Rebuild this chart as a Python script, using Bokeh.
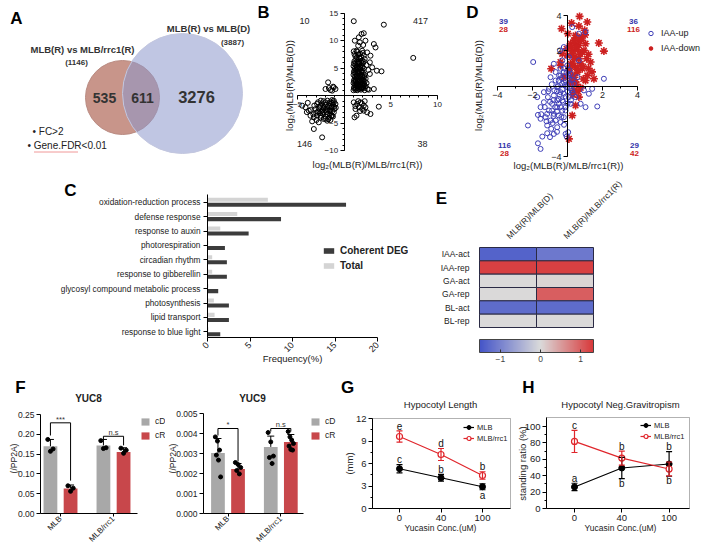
import math
import numpy as np
from bokeh.plotting import figure
from bokeh.layouts import column, row
from bokeh.models import (Range1d, Label, FixedTicker, Legend, LegendItem, BoxAnnotation,
                          ColumnDataSource, Whisker, TeeHead, LinearColorMapper, ColorBar,
                          NumeralTickFormatter)
from bokeh.core.properties import value
from bokeh.embed import file_html
from bokeh.resources import INLINE

FONT = "Liberation Sans"

# ======================= DATA =======================
# A  Venn
venn_left_title = "MLB(R) vs MLB/rrc1(R)"
venn_right_title = "MLB(R) vs MLB(D)"
venn_left_total = 1146
venn_right_total = 3887
venn_left_only = 535
venn_overlap = 611
venn_right_only = 3276
venn_criteria = ["FC>2", "Gene.FDR<0.01"]

# B  scatter log2 fold changes (x = MLB(R)/MLB/rrc1(R), y = MLB(R)/MLB(D))
b_points = [
    (1.03, 13.6), (4.25, 12.96), (7.4, 6.9), (1.86, 11.26), (2.1, 11.4), (1.57, 10.65),
    (1.14, 10.04), (1.68, 9.74), (2.28, 10.04), (1.5, 9.13), (2.04, 9.25), (1.32, 8.2),
    (1.93, 8.2), (1.03, 8.1), (3.18, 9.43), (3.36, 8.8), (2.46, 7.9), (2.82, 7.3),
    (2.1, 7.3), (3.5, 4.56), (4.0, 4.45), (2.75, 6.09), (3.0, 5.17), (2.75, 3.96),
    (3.18, 1.22), (2.64, 1.1),
    (1.0, 1.0), (1.2, 1.1), (1.4, 1.0), (1.6, 1.2), (1.8, 1.1), (2.0, 1.3), (2.2, 1.0), (2.5, 1.2),
    (1.1, 1.6), (1.3, 1.8), (1.5, 1.7), (1.7, 1.9), (1.9, 1.6), (2.1, 1.8), (2.3, 1.7),
    (1.0, 2.3), (1.2, 2.5), (1.4, 2.2), (1.6, 2.6), (1.8, 2.4), (2.0, 2.2), (2.2, 2.6), (2.4, 2.3),
    (1.1, 3.0), (1.3, 3.2), (1.5, 3.1), (1.7, 3.4), (1.9, 3.0), (2.1, 3.3), (2.3, 3.1),
    (1.0, 3.8), (1.2, 4.0), (1.4, 3.7), (1.6, 4.1), (1.8, 3.9), (2.0, 4.2), (2.2, 3.8),
    (1.1, 4.6), (1.3, 4.8), (1.5, 4.5), (1.7, 4.9), (1.9, 4.6), (2.1, 5.0), (2.6, 4.7),
    (1.0, 5.4), (1.2, 5.6), (1.4, 5.3), (1.6, 5.8), (1.8, 5.5), (2.0, 5.9), (2.4, 5.6),
    (1.1, 6.3), (1.3, 6.6), (1.5, 6.2), (1.7, 6.8), (1.9, 6.4), (2.2, 6.7),
    (1.2, 7.2), (1.5, 7.5), (1.8, 7.1),
    (1.05, 1.4), (1.25, 1.35), (1.45, 1.45), (1.65, 1.5), (1.85, 1.35), (2.05, 1.55),
    (1.15, 2.0), (1.35, 2.05), (1.55, 1.95), (1.75, 2.1), (1.95, 2.0), (2.15, 2.1),
    (1.05, 2.7), (1.25, 2.8), (1.45, 2.65), (1.65, 2.85), (1.85, 2.75), (2.05, 2.7),
    (1.15, 3.45), (1.35, 3.5), (1.55, 3.4), (1.75, 3.6), (1.95, 3.5), (2.15, 3.55),
    (1.05, 4.3), (1.25, 4.35), (1.45, 4.2), (1.65, 4.4), (1.85, 4.3),
    (1.15, 5.0), (1.35, 5.1), (1.55, 4.95), (1.75, 5.2), (1.95, 5.2),
    (1.05, 5.9), (1.25, 6.0), (1.45, 5.85), (1.65, 6.1), (1.85, 6.0), (2.1, 6.2),
    (1.35, 7.0), (1.6, 6.9), (1.1, 7.6), (1.4, 8.0), (1.7, 7.7), (2.0, 7.8),
    (-1.72, 2.44), (-2.0, 1.22), (-1.47, 1.04), (-1.11, 1.53), (-1.29, 0.92), (-0.93, 1.22),
    (-1.18, 1.65), (-1.64, 1.4),
    (-4.5, -1.82), (-4.14, -2.12), (-3.79, -2.73), (-3.61, -3.65), (-3.25, -3.95), (-3.43, -4.68),
    (-2.97, -4.44), (-2.72, -4.86), (-2.54, -3.65), (-2.18, -4.25), (-1.82, -4.56), (-1.47, -4.44),
    (-1.29, -3.65), (-1.11, -3.04), (-1.47, -2.73), (-1.82, -2.43), (-2.18, -2.12), (-2.54, -1.82),
    (-2.9, -1.52), (-2.0, -1.21), (-1.47, -1.09), (-1.11, -0.91), (-0.93, -1.52), (-1.64, -1.82),
    (-1.29, -2.12), (-1.04, -2.43), (-2.18, -3.04), (-3.07, -2.43), (-3.25, -6.08), (-2.36, -7.6),
    (-2.5, -0.9), (-2.2, -1.0), (-1.8, -0.9), (-1.3, -1.3), (-3.2, -1.8), (-2.7, -2.3),
    (-2.3, -2.6), (-1.9, -3.0), (-1.5, -3.3), (-1.2, -3.8), (-2.6, -3.2), (-2.9, -3.6),
    (-2.0, -3.8), (-1.6, -4.0), (-3.6, -2.6), (-4.0, -3.0), (-3.9, -1.3),
    (-2.8, -1.2), (-2.4, -1.4), (-2.0, -1.6), (-1.6, -1.4), (-1.2, -1.6), (-2.6, -2.0),
    (-2.2, -2.3), (-1.8, -2.0), (-1.4, -2.2), (-1.1, -2.0), (-2.4, -2.8), (-2.0, -2.6),
    (-1.6, -2.7), (-1.3, -2.9), (-2.8, -2.9), (-2.3, -3.3), (-1.8, -3.4), (-1.4, -3.7),
    (-2.5, -4.0), (-2.0, -4.2), (-1.7, -4.3), (-3.0, -3.1), (-3.3, -3.4), (-1.1, -1.2),
    (-1.3, -0.8), (-0.9, -2.2),
    (1.03, -1.21), (1.39, -1.52), (1.75, -1.21), (2.1, -1.82), (1.57, -2.12), (1.21, -2.43),
    (1.93, -2.43), (2.28, -2.12), (1.32, -3.65), (1.11, -3.95), (2.46, -3.04), (2.82, -3.34),
    (3.71, -2.0), (2.1, -2.73), (1.5, -1.0), (1.9, -1.4), (2.2, -1.0), (1.2, -1.9), (1.7, -2.8),
]
b_counts = ["10", "417", "146", "38"]          # UL, UR, LL, LR

# D  auxin responsive genes
d_up_points = [
    (-1.96, 1.36), (2.08, 0.41), (1.70, -1.16), (1.03, -1.2), (-2.26, -2.24), (-1.69, -1.64),
    (-1.54, -1.86), (-1.44, -2.87), (-1.69, -3.25), (-1.54, -3.57), (-1.0, -2.9), (-0.78, -2.72),
    (-0.59, -2.34), (-0.11, -2.72), (-0.05, -2.87), (-1.16, -2.24), (-0.97, -1.96), (-1.25, -1.77),
    (-1.06, -1.39), (-0.78, -1.58), (-0.5, -1.67), (-0.59, -1.2), (-0.88, -1.01), (-1.12, -0.63),
    (-1.35, -0.35), (-1.06, -0.16), (-0.78, -0.54), (-0.5, -0.73), (-0.4, -0.35), (-0.59, -0.06),
    (-0.30, 0.13), (-0.68, 0.31), (-0.49, 0.6), (-0.21, 0.79), (-0.40, 0.98), (-0.01, 1.17),
    (-0.78, 1.26), (0.18, 0.69), (-0.11, 0.31), (-0.01, -0.06), (-0.21, -0.44), (-0.30, -0.82),
    (0.08, -0.63), (0.27, -0.25), (0.37, 0.13), (0.18, -1.01), (-0.40, -1.2), (-0.11, -1.39),
    (-0.68, -1.96), (-0.93, -2.43), (-1.16, -2.68), (-0.40, -2.05), (-0.21, -1.77), (0.04, -2.62),
    (0.65, 1.45), (0.94, -0.25), (1.22, -0.44), (1.41, -0.16), (-1.35, -0.92), (-1.54, -1.2),
    (-1.73, -0.63), (0.08, 1.64), (0.56, 0.5), (0.46, -0.63), (-0.97, 0.5), (-0.68, 0.79),
    (-0.30, 1.45), (-0.43, 2.02), (-0.21, 2.21), (0.27, 3.34), (0.65, 2.97), (1.03, 3.06),
    (0.75, -1.01), (-0.59, -0.82), (-0.88, -1.39), (-1.16, -1.58),
    (-0.2, 0.2), (0.1, 0.4), (-0.3, -0.2), (0.0, -0.3), (0.2, 0.1), (-0.5, 0.3), (-0.1, -0.6),
    (0.3, -0.4), (-0.6, -0.3), (-0.4, 0.6), (-0.2, 1.0), (0.1, 0.9), (-0.8, -0.8), (-0.9, 0.1),
    (-1.1, -0.3), (-0.7, -1.2), (-0.3, -1.4), (0.0, -1.0), (-0.5, -1.0), (-1.3, -1.2),
    (-1.5, -1.6), (-1.2, -2.0), (-0.8, -1.7), (-0.2, -2.2), (-0.6, -2.6),
    (-0.35, 0.45), (-0.15, 0.05), (0.05, 0.6), (0.25, 0.35), (-0.25, -0.9), (-0.45, -0.5),
    (0.15, -0.15), (-0.05, 0.75), (-0.55, 0.0), (-0.75, -0.25), (-0.1, -1.2), (0.2, -0.8),
    (-0.35, -1.75), (-0.6, -1.45), (-0.85, -2.1), (-1.0, -0.9),
]
d_down_points = [
    (-0.34, 3.25), (0.23, 3.57), (0.69, 3.95), (0.65, 3.4), (1.13, 3.63), (0.98, 3.16),
    (0.02, 2.97), (0.46, 2.87), (0.8, 2.78), (1.79, 2.44), (2.08, 1.98), (0.37, 2.59),
    (0.18, 2.4), (0.65, 2.3), (1.03, 2.4), (-0.05, 2.11), (0.31, 2.02), (0.56, 2.06),
    (0.84, 1.92), (1.32, 1.36), (1.09, 1.55), (-0.30, 1.83), (-0.01, 1.73), (0.37, 1.64),
    (0.65, 1.55), (-0.93, 0.98), (-0.4, 1.17), (0.18, 1.26), (0.46, 1.07), (0.84, 0.98),
    (1.13, 0.6), (1.51, 0.41), (1.03, 0.31), (0.56, 0.79), (0.27, 0.6), (0.46, 0.22),
    (0.75, -0.1), (0.37, -0.25), (0.65, -0.63), (0.27, -1.67), (0.46, -1.1), (0.08, -3.0),
    (-0.21, 0.5), (0.08, 0.88), (-0.4, 1.36), (0.65, 2.59), (0.46, 2.3), (0.94, 2.02),
    (0.27, 1.83), (0.75, 1.26),
    (0.2, 0.3), (0.4, 0.5), (0.1, 1.0), (0.3, 1.3), (0.5, 1.6), (0.2, 2.2), (0.6, 0.9),
    (0.7, 1.8), (0.4, 2.6), (0.15, 0.15), (0.5, 0.1), (0.3, -0.5), (0.6, -0.3), (0.9, 0.4),
    (1.2, 1.0), (0.9, 1.1), (1.4, 0.8), (1.2, 1.8), (0.8, 2.6), (1.0, 2.9),
]
d_counts_up = ["39", "36", "116", "29"]       # UL, UR, LL, LR
d_counts_down = ["28", "116", "28", "42"]

# C  GO enrichment
go_terms = ["oxidation-reduction process", "defense response", "response to auxin",
            "photorespiration", "circadian rhythm", "response to gibberellin",
            "glycosyl compound metabolic process", "photosynthesis", "lipid transport",
            "response to blue light"]
go_coherent = [16.3, 8.65, 4.84, 2.05, 2.28, 2.28, 1.26, 2.52, 2.52, 1.5]
go_total = [7.1, 3.5, 1.5, 0.1, 0.55, 0.55, 0.1, 0.75, 0.83, 0.1]
go_ticks = [0, 5, 10, 15, 20]

# E  heat map
e_rows = ["IAA-act", "IAA-rep", "GA-act", "GA-rep", "BL-act", "BL-rep"]
e_cols = ["MLB(R)/MLB(D)", "MLB(R)/MLB/rrc1(R)"]
e_col1 = [-1.35, 1.25, 0.0, 0.0, -1.25, 0.0]
e_col2 = [-1.1, 1.25, 0.05, 1.0, -1.25, 0.0]
e_ticks = [-1, 0, 1]

# F  qPCR
f_groups = ["MLB", "MLB/rrc1"]
f_conds = ["cD", "cR"]
yuc8_mean = {"cD": [0.170, 0.172], "cR": [0.063, 0.155]}
yuc8_sd = {"cD": [0.017, 0.015], "cR": [0.009, 0.011]}
yuc8_pts = {"cD": [[0.187, 0.163, 0.157], [0.184, 0.166, 0.164]],
            "cR": [[0.070, 0.064, 0.056], [0.165, 0.160, 0.152]]}
yuc8_sig = ["***", "n.s"]
yuc9_mean = {"cD": [0.00302, 0.00333], "cR": [0.00222, 0.00358]}
yuc9_sd = {"cD": [0.00073, 0.00054], "cR": [0.00028, 0.00037]}
yuc9_pts = {"cD": [[0.00383, 0.00362, 0.00317, 0.00292, 0.00267, 0.00183],
                   [0.00405, 0.00358, 0.00287, 0.00280, 0.00250]],
            "cR": [[0.00255, 0.00245, 0.00230, 0.00215, 0.00198],
                   [0.00410, 0.00383, 0.00367, 0.00350, 0.00337, 0.00320, 0.00317]]}
yuc9_sig = ["*", "n.s"]

# G, H  yucasin treatment
conc_labels = ["0", "40", "100"]
g_mlb = [5.3, 4.1, 2.9]
g_mlb_err = [0.55, 0.45, 0.4]
g_rrc1 = [9.6, 7.2, 4.4]
g_rrc1_err = [0.75, 0.8, 0.5]
g_letters_mlb = ["c", "b", "a"]
g_letters_rrc1 = ["e", "d", "b"]
h_mlb = [26.3, 49.4, 54.3]
h_mlb_err = [4.5, 13.0, 15.0]
h_rrc1 = [81.8, 61.5, 48.2]
h_rrc1_err = [13.5, 8.5, 8.5]
h_letters_mlb = ["a", "b", "b"]
h_letters_rrc1 = ["c", "b", "b"]


# ======================= HELPERS =======================
def setup(rect, xmap, ymap, **kw):
    """rect = page box of the figure; xmap/ymap = (page0, value0, page1, value1)."""
    X0, X1, Y0, Y1 = rect
    kx = (xmap[3] - xmap[1]) / (xmap[2] - xmap[0])
    ky = (ymap[3] - ymap[1]) / (ymap[2] - ymap[0])
    x0 = xmap[1] + (X0 - xmap[0]) * kx
    x1 = xmap[1] + (X1 - xmap[0]) * kx
    yb = ymap[1] + (Y1 - ymap[0]) * ky
    yt = ymap[1] + (Y0 - ymap[0]) * ky
    p = figure(width=X1 - X0, height=Y1 - Y0, x_range=Range1d(x0, x1),
               y_range=Range1d(yb, yt), output_backend="svg", toolbar_location=None,
               min_border=0, min_border_left=0, min_border_right=0, min_border_top=0,
               min_border_bottom=0, **kw)
    p.outline_line_color = None
    for g in p.grid:
        g.visible = False
    p.background_fill_color = "white"
    p.border_fill_color = "white"
    F = dict(fx0=X0, fx1=X1, fy0=Y0, fy1=Y1, x0=x0, x1=x1, yb=yb, yt=yt)
    return p, F


def to_data(F, px, py):
    x = F["x0"] + (px - F["fx0"]) / (F["fx1"] - F["fx0"]) * (F["x1"] - F["x0"])
    y = F["yb"] + (F["fy1"] - py) / (F["fy1"] - F["fy0"]) * (F["yt"] - F["yb"])
    return x, y


def L(p, F, px, py, text, size=10, bold=False, color="#222222", align="center",
      baseline="middle", angle=0.0):
    x, y = to_data(F, px, py)
    p.add_layout(Label(x=x, y=y, text=text, text_font=FONT, text_font_size=f"{size}px",
                       text_font_style="bold" if bold else "normal", text_color=color,
                       text_align=align, text_baseline=baseline, angle=angle))


def style_axis(ax, fs="8px", tick_out=4, minor_out=2):
    ax.axis_line_color = "black"
    ax.axis_line_width = 1
    ax.major_tick_line_color = "black"
    ax.minor_tick_line_color = "black"
    ax.major_tick_in = 0
    ax.major_tick_out = tick_out
    ax.minor_tick_in = 0
    ax.minor_tick_out = minor_out
    ax.major_label_text_font = FONT
    ax.major_label_text_font_size = fs
    ax.major_label_text_color = "#222222"
    ax.major_label_standoff = 2


def legend(items, F, glyph_left_px, bottom_px, **kw):
    base = dict(margin=0, padding=0, border_line_color=None, background_fill_alpha=0,
                label_text_font=FONT, label_text_color="#222222")
    base.update(kw)
    return Legend(items=items, location=(glyph_left_px - F["fx0"], F["fy1"] - bottom_px), **base)


# ======================= A  Venn =======================
pA, FA = setup((0, 258, 0, 175), (0, 0, 258, 258), (0, 0, 175, 175),
               x_axis_location=None, y_axis_location=None)
pA.y_range = Range1d(175, 0)
FA.update(yb=175, yt=0)
pA.circle(x=[122], y=[97], radius=37, fill_color="#c8958a", fill_alpha=1.0,
          line_color="#b98b82", line_width=1)
pA.circle(x=[182], y=[93], radius=60, fill_color="#8c98cc", fill_alpha=0.55,
          line_color="#c3c7df", line_width=1)
L(pA, FA, 16, 18, "A", 17, True, "black")
L(pA, FA, 82, 49, venn_left_title, 9.5, True, "#333333")
L(pA, FA, 76, 62, f"({venn_left_total})", 8, True, "#333333")
L(pA, FA, 208, 28, venn_right_title, 9.5, True, "#333333")
L(pA, FA, 232, 42, f"({venn_right_total})", 8, True, "#333333")
L(pA, FA, 104, 97, str(venn_left_only), 14, True, "#333333")
L(pA, FA, 142, 97, str(venn_overlap), 14, True, "#333333")
L(pA, FA, 196, 96, str(venn_right_only), 16.5, True, "#333333")
L(pA, FA, 32, 131, "\u2022 " + venn_criteria[0], 10, False, "#222222", align="left")
L(pA, FA, 27, 145, "\u2022 " + venn_criteria[1], 10, False, "#222222", align="left")
pA.line(x=[34, 78], y=[151.5, 151.5], line_color="#e03030", line_width=1, line_dash="1 1")

# ======================= B  scatter =======================
pB, FB = setup((258, 460, 0, 175), (297, -5, 437, 10), (13, 15, 150, -10))
pB.scatter([q[0] for q in b_points], [q[1] for q in b_points], marker="circle", size=5,
           fill_color=None, line_color="black", line_width=1)
pB.xaxis.fixed_location = 0
pB.yaxis.fixed_location = 0
pB.xaxis.bounds = (-5, 10)
pB.yaxis.bounds = (-10, 15)
pB.xaxis.ticker = FixedTicker(ticks=[-5, 5, 10], minor_ticks=list(range(-5, 11)))
pB.yaxis.ticker = FixedTicker(ticks=[-10, -5, 5, 10, 15], minor_ticks=list(range(-10, 16)))
style_axis(pB.xaxis, "8px")
style_axis(pB.yaxis, "8px")
L(pB, FB, 263, 12, "B", 17, True, "black")
L(pB, FB, 289, 85, "log\u2082(MLB(R)/MLB(D))", 9.5, angle=math.pi / 2)
L(pB, FB, 367, 164, "log\u2082(MLB(R)/MLB/rrc1(R))", 9.5)
L(pB, FB, 304, 20, b_counts[0], 9)
L(pB, FB, 420, 20, b_counts[1], 9)
L(pB, FB, 304, 143, b_counts[2], 9)
L(pB, FB, 422, 143, b_counts[3], 9)

# ======================= D  scatter =======================
pD, FD = setup((460, 703, 0, 175), (497, -4, 637, 4), (15, 4, 156, -4))
r_down = pD.scatter([q[0] for q in d_down_points], [q[1] for q in d_down_points],
                    marker="asterisk", size=8, line_color="#cc2020", line_width=1.6)
r_up = pD.scatter([q[0] for q in d_up_points], [q[1] for q in d_up_points], marker="circle",
                  size=5, fill_color=None, line_color="#3f3fb8", line_width=1)
pD.xaxis.fixed_location = 0
pD.yaxis.fixed_location = 0
pD.xaxis.bounds = (-4, 4)
pD.yaxis.bounds = (-4, 4)
pD.xaxis.ticker = FixedTicker(ticks=[-4, -2, 2, 4], minor_ticks=list(range(-4, 5)))
pD.yaxis.ticker = FixedTicker(ticks=[-4, -2, 2, 4], minor_ticks=list(range(-4, 5)))
pD.yaxis.major_label_overrides = {-2: ""}
style_axis(pD.xaxis, "9px")
style_axis(pD.yaxis, "9px")
pD.add_layout(legend([LegendItem(label="IAA-up", renderers=[r_up]),
                      LegendItem(label="IAA-down", renderers=[r_down])],
                     FD, 645, 54, spacing=3, label_height=12, glyph_height=12, glyph_width=11,
                     label_standoff=5, label_text_font_size="9px"))
L(pD, FD, 472, 12, "D", 17, True, "black")
L(pD, FD, 478, 85, "log\u2082(MLB(R)/MLB(D))", 9.5, angle=math.pi / 2)
L(pD, FD, 568, 165, "log\u2082(MLB(R)/MLB/rrc1(R))", 9.5)
qpos = [(503, 21), (633, 21), (504, 145), (634, 145)]
for (qx, qy), cu, cd in zip(qpos, d_counts_up, d_counts_down):
    L(pD, FD, qx, qy, cu, 8, True, "#3333aa")
    L(pD, FD, qx, qy + 8, cd, 8, True, "#cc2222")

# ======================= C  GO bars =======================
pC, FC = setup((0, 408, 175, 365), (207, 0, 377, 20), (201.7, 0, 331.3, 9))
idx = list(range(len(go_terms)))
r_tot = pC.hbar(y=[i - 0.175 for i in idx], right=go_total, height=0.28,
                fill_color="#d4d4d4", line_color=None)
r_coh = pC.hbar(y=[i + 0.175 for i in idx], right=go_coherent, height=0.28,
                fill_color="#3c3c3c", line_color=None)
c_top = to_data(FC, 0, 194)[1]
c_bot = to_data(FC, 0, 337)[1]
pC.yaxis.fixed_location = 0
pC.yaxis.bounds = (min(c_top, c_bot), max(c_top, c_bot))
pC.yaxis.ticker = FixedTicker(ticks=idx)
pC.yaxis.major_label_overrides = {i: t for i, t in enumerate(go_terms)}
pC.xaxis.fixed_location = c_bot
pC.xaxis.bounds = (0, 20)
pC.xaxis.ticker = FixedTicker(ticks=go_ticks)
pC.xaxis.major_label_orientation = math.pi / 4
style_axis(pC.xaxis, "9px")
style_axis(pC.yaxis, "8.3px")
pC.yaxis.major_label_standoff = 3
pC.add_layout(legend([LegendItem(label="Coherent DEG", renderers=[r_coh]),
                      LegendItem(label="Total", renderers=[r_tot])],
                     FC, 322, 272, spacing=1, label_height=14, glyph_height=7, glyph_width=13,
                     label_standoff=5, label_text_font_size="10px",
                     label_text_font_style="bold"))
L(pC, FC, 70, 190, "C", 17, True, "black")
L(pC, FC, 292, 358, "Frequency(%)", 9.5)

# ======================= E  heat map =======================
pE, FE = setup((408, 703, 175, 365), (479, -0.5, 593, 1.5), (327, -0.5, 247, 5.5),
               x_axis_location="above")
low, high = -1.52, 1.32
c_blue, c_mid, c_red = (68, 84, 200), (218, 218, 218), (216, 56, 58)
palette = []
for i in range(256):
    v = low + (high - low) * i / 255
    if v < 0:
        t, c_end = v / low, c_blue
    else:
        t, c_end = v / high, c_red
    rgb = [int(round(c_mid[k] + t * (c_end[k] - c_mid[k]))) for k in range(3)]
    palette.append("#%02x%02x%02x" % tuple(rgb))
mapper = LinearColorMapper(palette=palette, low=low, high=high)
nr = len(e_rows)
srcE = ColumnDataSource(dict(x=[0] * nr + [1] * nr,
                             y=[nr - 1 - i for i in range(nr)] * 2,
                             val=e_col1 + e_col2))
pE.rect(x="x", y="y", width=1, height=1, source=srcE,
        fill_color={"field": "val", "transform": mapper}, line_color="#2a2a44", line_width=1)
pE.xaxis.fixed_location = nr - 0.5
pE.yaxis.fixed_location = -0.5
pE.xaxis.ticker = FixedTicker(ticks=[0, 1])
pE.xaxis.major_label_overrides = {i: c for i, c in enumerate(e_cols)}
pE.yaxis.ticker = FixedTicker(ticks=list(range(nr)))
pE.yaxis.major_label_overrides = {nr - 1 - i: r for i, r in enumerate(e_rows)}
for ax in (pE.xaxis[0], pE.yaxis[0]):
    ax.axis_line_color = None
    ax.major_tick_line_color = None
    ax.minor_tick_line_color = None
    ax.major_label_text_font = FONT
    ax.major_label_text_font_size = "8.5px"
    ax.major_label_text_color = "#222222"
    ax.major_label_standoff = 4
pE.xaxis.major_label_orientation = math.pi / 4
cb = ColorBar(color_mapper=mapper, orientation="horizontal", width=114, height=13,
              location=(479 - FE["fx0"], 1), padding=0, margin=0,
              ticker=FixedTicker(ticks=e_ticks), major_label_text_font=FONT,
              major_label_text_font_size="8.5px", label_standoff=3,
              bar_line_color="#444444", major_tick_line_color="#333333",
              major_tick_in=3, major_tick_out=0, background_fill_alpha=0)
pE.add_layout(cb)
L(pE, FE, 441, 198, "E", 17, True, "black")


# ======================= F  bar charts =======================
def bar_panel(rect, xmap, ymap, axis_left_px, axis_right_px, means, sds, pts, sig, br_top,
              br_left, br_right, sig_off, ticks, fmt, title, title_x, label_x, leg_x,
              letter=None):
    p, F = setup(rect, xmap, ymap)
    colors = {"cD": "#a8a8a8", "cR": "#c8474b"}
    offs = {"cD": -0.19, "cR": 0.19}
    rends = {}
    for cond in f_conds:
        xs = [g + offs[cond] for g in range(len(f_groups))]
        rends[cond] = p.vbar(x=xs, top=means[cond], width=0.26, fill_color=colors[cond],
                             line_color=None)
        src = ColumnDataSource(dict(x=xs, lo=means[cond],
                                    up=[m + s for m, s in zip(means[cond], sds[cond])]))
        p.add_layout(Whisker(source=src, base="x", lower="lo", upper="up",
                             line_color="black", line_width=1,
                             upper_head=TeeHead(size=7, line_color="black", line_width=1),
                             lower_head=None, level="overlay"))
        px, py = [], []
        for g, vals in enumerate(pts[cond]):
            n = len(vals)
            jit = np.linspace(-0.05, 0.05, n) if n > 1 else [0.0]
            order = list(range(0, n, 2)) + list(range(1, n, 2))
            for j, v in enumerate(vals):
                px.append(xs[g] + jit[order[j]])
                py.append(v)
        p.scatter(px, py, marker="circle", size=4, fill_color="black", line_color="black")
    bx, by = [], []
    for g in range(len(f_groups)):
        xl, xr = g + offs["cD"], g + offs["cR"]
        bx.append([xl, xl, xr, xr])
        by.append([br_left[g], br_top[g], br_top[g], br_right[g]])
    p.multi_line(bx, by, line_color="black", line_width=1)
    p.text(x=list(range(len(f_groups))), y=[t + sig_off for t in br_top], text=sig,
           text_font=value(FONT), text_font_size=value("7.5px"), text_align="center",
           text_baseline="middle", text_color="#333333")
    xl_axis = to_data(F, axis_left_px, 0)[0]
    xr_axis = to_data(F, axis_right_px, 0)[0]
    p.xaxis.fixed_location = 0
    p.xaxis.bounds = (xl_axis, xr_axis)
    p.yaxis.fixed_location = xl_axis
    p.yaxis.bounds = (ticks[0], ticks[-1])
    p.xaxis.ticker = FixedTicker(ticks=list(range(len(f_groups))))
    p.xaxis.major_label_overrides = {i: gname for i, gname in enumerate(f_groups)}
    p.xaxis.major_label_orientation = math.pi / 4
    p.yaxis.ticker = FixedTicker(ticks=ticks)
    p.yaxis.formatter = NumeralTickFormatter(format=fmt)
    style_axis(p.xaxis, "8px", tick_out=3)
    style_axis(p.yaxis, "8.5px")
    p.xaxis.major_label_standoff = 1
    p.add_layout(legend([LegendItem(label=c, renderers=[rends[c]]) for c in f_conds],
                        F, leg_x, 440, spacing=4, label_height=10, glyph_height=9,
                        glyph_width=10, label_standoff=5, label_text_font_size="8.5px"))
    L(p, F, title_x, 398, title, 10, True, "#222222")
    L(p, F, label_x, 458, "(/PP2A)", 8.5, angle=math.pi / 2)
    if letter:
        L(p, F, 20, 387, letter, 17, True, "black")
    return p


pF8 = bar_panel((0, 165, 365, 549), (60, 0, 113, 1), (513, 0, 414, 0.25), 40, 137,
                yuc8_mean, yuc8_sd, yuc8_pts, yuc8_sig,
                [0.229, 0.195], [0.197, 0.188], [0.083, 0.172], 0.009,
                [0, 0.05, 0.10, 0.15, 0.20, 0.25], "0.00", "YUC8", 88, 13, 140, letter="F")
pF9 = bar_panel((165, 340, 365, 549), (227.5, 0, 280.3, 1), (513, 0, 413, 0.005), 203, 303,
                yuc9_mean, yuc9_sd, yuc9_pts, yuc9_sig,
                [0.00425, 0.00425], [0.0039, 0.0041], [0.0026, 0.0041], 0.00018,
                [0, 0.001, 0.002, 0.003, 0.004, 0.005], "0.000", "YUC9", 252, 172, 310)


# ======================= G, H  line charts =======================
def line_panel(rect, xmap, ymap, box, mlb, mlb_err, rrc, rrc_err, let_mlb, let_rrc, pos_mlb,
               pos_rrc, off, yticks, yminor, title, title_x, ylab, ylab_x, letter, letter_x,
               leg_x, leg_bottom):
    p, F = setup(rect, xmap, ymap)
    bl, br, bb, bt = box
    xl_v = to_data(F, bl, 0)[0]
    xr_v = to_data(F, br, 0)[0]
    yt_v = to_data(F, 0, bt)[1]
    p.add_layout(BoxAnnotation(left=xl_v, right=xr_v, bottom=0, top=yt_v, fill_alpha=0,
                               line_color="black", line_width=1, level="underlay"))
    xs = list(range(len(conc_labels)))
    red = "#e0262c"
    l1 = p.line(xs, mlb, line_color="black", line_width=1.2)
    l2 = p.line(xs, rrc, line_color=red, line_width=1.2)
    for vals, errs, col in ((mlb, mlb_err, "black"), (rrc, rrc_err, red)):
        src = ColumnDataSource(dict(x=xs, lo=[v - e for v, e in zip(vals, errs)],
                                    up=[v + e for v, e in zip(vals, errs)]))
        p.add_layout(Whisker(source=src, base="x", lower="lo", upper="up", line_color=col,
                             line_width=1.2, level="glyph",
                             upper_head=TeeHead(size=6, line_color=col, line_width=1.2),
                             lower_head=TeeHead(size=6, line_color=col, line_width=1.2)))
    s1 = p.scatter(xs, mlb, marker="circle", size=6, fill_color="black", line_color="black")
    s2 = p.scatter(xs, rrc, marker="circle", size=6, fill_color="white", line_color=red,
                   line_width=1.2)
    tx, ty, tt = [], [], []
    for vals, errs, lets, pos in ((mlb, mlb_err, let_mlb, pos_mlb),
                                  (rrc, rrc_err, let_rrc, pos_rrc)):
        for i, (v, e, lt, ps) in enumerate(zip(vals, errs, lets, pos)):
            tx.append(i)
            ty.append(v + e + off if ps == "up" else v - e - off)
            tt.append(lt)
    p.text(x=tx, y=ty, text=tt, text_font=value(FONT), text_font_size=value("10px"),
           text_align="center", text_baseline="middle", text_color="#111111")
    p.xaxis.fixed_location = 0
    p.xaxis.bounds = (xl_v, xr_v)
    p.yaxis.fixed_location = xl_v
    p.yaxis.bounds = (0, yt_v)
    p.xaxis.ticker = FixedTicker(ticks=xs)
    p.xaxis.major_label_overrides = {i: c for i, c in enumerate(conc_labels)}
    p.yaxis.ticker = FixedTicker(ticks=yticks, minor_ticks=yminor)
    style_axis(p.xaxis, "9.5px")
    style_axis(p.yaxis, "9.5px")
    p.add_layout(legend([LegendItem(label="MLB", renderers=[l1, s1]),
                         LegendItem(label="MLB/rrc1", renderers=[l2, s2])],
                        F, leg_x, leg_bottom, spacing=1, label_height=10, glyph_height=10,
                        glyph_width=11, label_standoff=3, label_text_font_size="7.5px"))
    L(p, F, title_x, 404, title, 9.5)
    L(p, F, title_x, 527, "Yucasin Conc.(uM)", 8.5)
    L(p, F, ylab_x, 463, ylab, 9.5, angle=math.pi / 2)
    L(p, F, letter_x, 387, letter, 17, True, "black")
    return p


pG = line_panel((340, 512, 365, 549), (399, 0, 440.5, 1), (508, 0, 418, 12),
                (372, 510, 508, 418), g_mlb, g_mlb_err, g_rrc1, g_rrc1_err,
                g_letters_mlb, g_letters_rrc1, ["up", "up", "down"], ["up", "up", "up"], 0.7,
                [0, 3, 6, 9, 12], [1.5, 4.5, 7.5, 10.5], "Hypocotyl Length", 440, "(mm)", 349,
                "G", 347, 463, 443)
pH = line_panel((512, 703, 365, 549), (574, 0, 621.3, 1), (508, 0, 426, 100),
                (546, 689, 508, 417), h_mlb, h_mlb_err, h_rrc1, h_rrc1_err,
                h_letters_mlb, h_letters_rrc1, ["up", "down", "up"], ["up", "up", "down"], 6,
                [0, 20, 40, 60, 80, 100], [10, 30, 50, 70, 90], "Hypocotyl Neg.Gravitropism",
                620, "standing ratio (%)", 522, "H", 528, 640, 441)

layout = column(row(pA, pB, pD), row(pC, pE), row(pF8, pF9, pG, pH))
open("out.html", "w").write(file_html(layout, INLINE))
